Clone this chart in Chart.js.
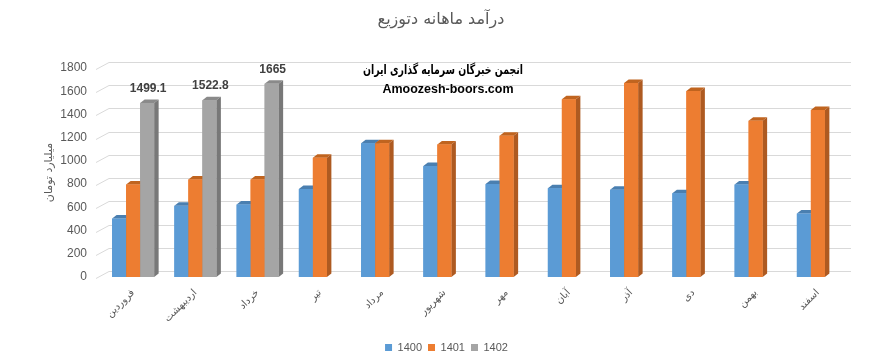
<!DOCTYPE html>
<html>
<head>
<meta charset="utf-8">
<script src="https://cdn.jsdelivr.net/npm/chart.js@4.4.0/dist/chart.umd.min.js"></script>
<style>
html, body { margin: 0; padding: 0; background: #fff; }
#wrap { width: 882px; height: 363px; position: relative; }
</style>
</head>
<body>
<div id="wrap"><canvas id="revenue-chart"></canvas></div>
<script>
// monthly revenue, billion toman
const months = ['فروردین', 'اردیبهشت', 'خرداد', 'تیر', 'مرداد', 'شهریور', 'مهر', 'آبان', 'آذر', 'دی', 'بهمن', 'اسفند'];
const years = ['1400', '1401', '1402'];
const rev1400 = [503, 613, 624, 757, 1152, 955, 800, 765, 751, 722, 796, 546];
const rev1401 = [796, 840, 840, 1027, 1152, 1142, 1217, 1530, 1671, 1602, 1346, 1438];
const rev1402 = [1499.1, 1522.8, 1665, null, null, null, null, null, null, null, null, null];
const yMax = 1800;
const yStep = 200;

const chartTitle = 'درآمد ماهانه دتوزیع';
const yTitle = 'میلیارد تومان';
const stampLine1 = 'انجمن خبرگان سرمایه گذاری ایران';
const stampLine2 = 'Amoozesh-boors.com';

const fronts = ['#5b9bd5', '#ed7d31', '#a5a5a5'];
const sides = ['#41719c', '#ae5a21', '#787878'];
const tops = ['#4a7fb0', '#c0641f', '#8a8a8a'];
const depthX = 4.5, depthY = 3.5;

const canvas = document.querySelector('#revenue-chart');

// back grid lines with a little slanted piece on the left
const backGrid = {
    id: 'backGrid',
    afterLayout(chart) {
        // legend sits a bit right of the canvas middle in the original
        if (chart.legend) {
            chart.legend.left += 22;
            chart.legend.right += 22;
        }
    },
    beforeDatasetsDraw(chart) {
        const ctx = chart.ctx;
        const y = chart.scales.y;
        const area = chart.chartArea;
        ctx.save();
        ctx.strokeStyle = '#d9d9d9';
        ctx.lineWidth = 1;
        y.ticks.forEach(t => {
            const py = Math.round(y.getPixelForValue(t.value)) + 0.5;
            ctx.beginPath();
            ctx.moveTo(area.left - 6, py + 1);
            ctx.lineTo(area.left + 7, py - 6);
            ctx.lineTo(area.right + 2, py - 6);
            ctx.stroke();
        });
        ctx.restore();
    }
};

// draw each bar as a box: top, side, then front, left to right
const boxes = {
    id: 'boxes',
    afterDatasetsDraw(chart) {
        const ctx = chart.ctx;
        ctx.save();
        months.forEach((m, i) => {
            chart.data.datasets.forEach((ds, d) => {
                const meta = chart.getDatasetMeta(d);
                const bar = meta.data[i];
                if (!bar || ds.data[i] == null) return;
                const p = bar.getProps(['x', 'y', 'base', 'width'], true);
                const l = p.x - p.width / 2, r = p.x + p.width / 2;
                // top
                ctx.fillStyle = tops[d];
                ctx.beginPath();
                ctx.moveTo(l, p.y);
                ctx.lineTo(l + depthX, p.y - depthY);
                ctx.lineTo(r + depthX, p.y - depthY);
                ctx.lineTo(r, p.y);
                ctx.closePath();
                ctx.fill();
                // side
                ctx.fillStyle = sides[d];
                ctx.beginPath();
                ctx.moveTo(r, p.y);
                ctx.lineTo(r + depthX, p.y - depthY);
                ctx.lineTo(r + depthX, p.base - depthY);
                ctx.lineTo(r, p.base);
                ctx.closePath();
                ctx.fill();
                // front
                ctx.fillStyle = fronts[d];
                ctx.fillRect(l, p.y, r - l, p.base - p.y);
            });
        });

        // value labels on the 1402 bars
        const meta2 = chart.getDatasetMeta(2);
        ctx.fillStyle = '#404040';
        ctx.font = 'bold 12px "Liberation Sans", Arial, sans-serif';
        ctx.textAlign = 'center';
        ctx.textBaseline = 'middle';
        rev1402.forEach((v, i) => {
            if (v == null) return;
            const bar = meta2.data[i];
            ctx.fillText(String(v), bar.x + 1, bar.y - 14);
        });
        ctx.restore();
    }
};

const texts = {
    id: 'texts',
    afterDraw(chart) {
        const ctx = chart.ctx;
        ctx.save();
        ctx.textAlign = 'center';
        ctx.textBaseline = 'middle';
        ctx.fillStyle = '#595959';
        ctx.font = '16px "DejaVu Sans", sans-serif';
        ctx.fillText(chartTitle, 441, 20);
        ctx.fillStyle = '#000';
        ctx.font = 'bold 13px "DejaVu Sans", sans-serif';
        ctx.fillText(stampLine1, 443, 71, 160);
        ctx.font = 'bold 13px "Liberation Sans", Arial, sans-serif';
        ctx.fillText(stampLine2, 448, 89, 131);
        ctx.restore();
    }
};

new Chart(canvas.getContext('2d'), {
    type: 'bar',
    data: {
        labels: months,
        datasets: [
            { label: years[0], data: rev1400, backgroundColor: fronts[0] },
            { label: years[1], data: rev1401, backgroundColor: fronts[1] },
            { label: years[2], data: rev1402, backgroundColor: fronts[2] }
        ]
    },
    options: {
        responsive: true,
        maintainAspectRatio: false,
        animation: false,
        layout: { padding: { top: 68, right: 33, left: 0, bottom: 0 } },
        datasets: { bar: { barPercentage: 1, categoryPercentage: 0.675 } },
        plugins: {
            title: { display: false },
            tooltip: { enabled: false },
            legend: {
                position: 'bottom',
                labels: {
                    boxWidth: 7,
                    boxHeight: 7,
                    padding: 6,
                    color: '#595959',
                    font: { family: '"Liberation Sans", Arial, sans-serif', size: 11 }
                }
            }
        },
        scales: {
            x: {
                grid: { display: false, drawTicks: false },
                border: { display: false },
                ticks: {
                    color: '#595959',
                    font: { family: '"DejaVu Sans", sans-serif', size: 10 },
                    minRotation: 45,
                    maxRotation: 45,
                    padding: 10
                },
                afterFit(scale) { scale.height = 59; }
            },
            y: {
                min: 0,
                max: yMax,
                grid: { display: false, drawTicks: false },
                border: { display: false },
                ticks: {
                    stepSize: yStep,
                    color: '#595959',
                    padding: 15,
                    font: { family: '"Liberation Sans", Arial, sans-serif', size: 12 },
                    callback: v => String(v)
                },
                title: {
                    display: true,
                    text: yTitle,
                    color: '#595959',
                    padding: { top: 43, bottom: 0 },
                    font: { family: '"DejaVu Sans", sans-serif', size: 11 }
                },
                afterFit(scale) { scale.width = 102; }
            }
        }
    },
    plugins: [backGrid, boxes, texts]
});
</script>
</body>
</html>
